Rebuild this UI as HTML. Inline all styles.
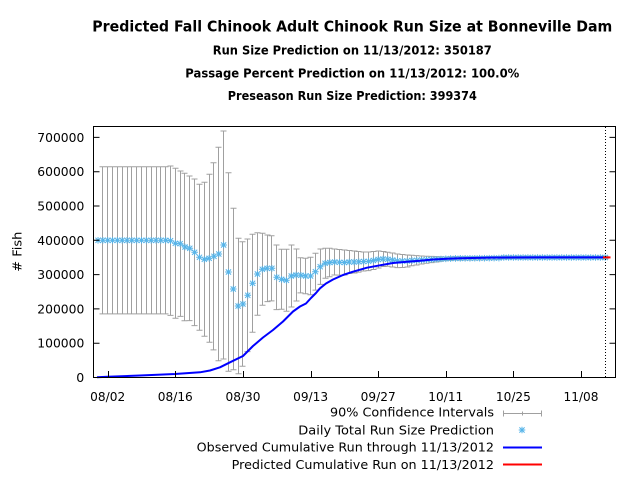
<!DOCTYPE html>
<html><head><meta charset="utf-8">
<style>
html,body{margin:0;padding:0;background:#fff;overflow:hidden;}
svg{display:block;}
text{font-family:"DejaVu Sans","Liberation Sans",sans-serif;fill:#000;}
</style></head><body>
<svg id="c" width="640" height="480" viewBox="0 0 640 480" xmlns="http://www.w3.org/2000/svg">
<rect width="640" height="480" fill="#fff"/>
<g font-weight="bold" text-anchor="middle">
<text x="352.3" y="31.7" font-size="15" textLength="520" lengthAdjust="spacingAndGlyphs">Predicted Fall Chinook Adult Chinook Run Size at Bonneville Dam</text>
<text x="352.3" y="54.7" font-size="12" textLength="279" lengthAdjust="spacingAndGlyphs">Run Size Prediction on 11/13/2012: 350187</text>
<text x="352.3" y="77.3" font-size="12" textLength="334" lengthAdjust="spacingAndGlyphs">Passage Percent Prediction on 11/13/2012: 100.0%</text>
<text x="352.3" y="100" font-size="12" textLength="249" lengthAdjust="spacingAndGlyphs">Preseason Run Size Prediction: 399374</text>
</g>
<text transform="translate(21.5,251.7) rotate(-90)" text-anchor="middle" font-size="12" textLength="40" lengthAdjust="spacingAndGlyphs"># Fish</text>
<g font-size="12" text-anchor="end">
<text x="84.3" y="382" textLength="8" lengthAdjust="spacingAndGlyphs">0</text>
<text x="84.3" y="347.7" textLength="47" lengthAdjust="spacingAndGlyphs">100000</text>
<text x="84.3" y="313.4" textLength="47" lengthAdjust="spacingAndGlyphs">200000</text>
<text x="84.3" y="279.1" textLength="47" lengthAdjust="spacingAndGlyphs">300000</text>
<text x="84.3" y="244.8" textLength="47" lengthAdjust="spacingAndGlyphs">400000</text>
<text x="84.3" y="210.5" textLength="47" lengthAdjust="spacingAndGlyphs">500000</text>
<text x="84.3" y="176.2" textLength="47" lengthAdjust="spacingAndGlyphs">600000</text>
<text x="84.3" y="141.9" textLength="47" lengthAdjust="spacingAndGlyphs">700000</text>
</g>
<g font-size="12" text-anchor="middle">
<text x="107.7" y="401" textLength="35" lengthAdjust="spacingAndGlyphs">08/02</text>
<text x="175.3" y="401" textLength="35" lengthAdjust="spacingAndGlyphs">08/16</text>
<text x="243.0" y="401" textLength="35" lengthAdjust="spacingAndGlyphs">08/30</text>
<text x="310.6" y="401" textLength="35" lengthAdjust="spacingAndGlyphs">09/13</text>
<text x="378.2" y="401" textLength="35" lengthAdjust="spacingAndGlyphs">09/27</text>
<text x="445.8" y="401" textLength="35" lengthAdjust="spacingAndGlyphs">10/11</text>
<text x="513.4" y="401" textLength="35" lengthAdjust="spacingAndGlyphs">10/25</text>
<text x="581.0" y="401" textLength="35" lengthAdjust="spacingAndGlyphs">11/08</text>
</g>
<g font-size="12" text-anchor="end">
<text x="494" y="416.7" textLength="164" lengthAdjust="spacingAndGlyphs">90% Confidence Intervals</text>
<text x="494" y="434.3" textLength="195.7" lengthAdjust="spacingAndGlyphs">Daily Total Run Size Prediction</text>
<text x="494" y="451.7" textLength="297.3" lengthAdjust="spacingAndGlyphs">Observed Cumulative Run through 11/13/2012</text>
<text x="494" y="469" textLength="262.3" lengthAdjust="spacingAndGlyphs">Predicted Cumulative Run on 11/13/2012</text>
</g>
<g id="plot"></g>
</svg>
<script>
(function(){
var NS="http://www.w3.org/2000/svg";
var g=document.getElementById("plot");
function X(d){return 107.7+4.83*d;}
function el(name,attrs){var e=document.createElementNS(NS,name);for(var k in attrs)e.setAttribute(k,attrs[k]);g.appendChild(e);return e;}
// stars
var S={};
for(var d=-2;d<=12;d++)S[d]=240.3;
var s2=[240.7,243.3,243.7,247,248.3,252.3,257.3,259.3,258.3,256.3,254,245,272,289,306,304,295.3,283.3,274,269.3,268.3,268.3,277.3,279.3,280.3,276,275,275.3,276,276,271.7,266.7,263.3,262.5,262,262.3,262.5,262,262,261.8,261.5,261.3,260.5,259.5,259,259.3,260,260.8,261,261,260.5,260.3,260,259.7,259.5,259.3,259,258.8,258.6];
for(var i=0;i<s2.length;i++)S[13+i]=s2[i];
for(d=72;d<=81;d++)S[d]=258.4-(d-72)*0.04;
for(d=82;d<=103;d++)S[d]=257.5;
// tops
var T={};
for(d=-1;d<=12;d++)T[d]=166.7;
var t2=[166,168.3,171,173.3,176,179,184.3,182.3,174.3,162.7,147.3,131,172.7,208.3,238.3,241.7,239,234.3,232.7,233.3,235,235.7,245,249.3,249.3,245,249,257.7,258.3,257.3,253.3,249,248.3,248.3,249,249.5,250,250.5,251,251.5,252,252,251.5,251,251.5,252.3,253,254,254.5,255,255.3,255.6,256,256.2,256.4,256.6,256.8,257];
for(i=0;i<t2.length;i++)T[13+i]=t2[i];
for(d=71;d<=103;d++)T[d]=S[d]-Math.max(1.2,1.8-(d-71)*0.03);
// error bars
var p="";
for(d=-1;d<=103;d++){
  var x=Math.floor(X(d))+0.5,t=T[d],b=2*S[d]-T[d];
  p+="M"+x+" "+t+"V"+b+"M"+(x-3)+" "+t+"H"+(x+3)+"M"+(x-3)+" "+b+"H"+(x+3);
}
el("path",{d:p,stroke:"#a0a0a0","stroke-width":"1",fill:"none"});
// stars
var sp="";
function star(x,y){
  var a=3.3,c=2.6;
  return "M"+(x-a)+" "+y+"H"+(x+a)+"M"+x+" "+(y-a)+"V"+(y+a)+"M"+(x-c)+" "+(y-c)+"L"+(x+c)+" "+(y+c)+"M"+(x-c)+" "+(y+c)+"L"+(x+c)+" "+(y-c);
}
for(d=-2;d<=103;d++){sp+=star(X(d),S[d]);}
sp+=star(522,430);
el("path",{d:sp,stroke:"#56b4e9","stroke-width":"1",fill:"none"});
// blue line
var B=[[97,377.3],[107.7,376.7],[140,375.5],[175,374],[200,372.3],[210,370.5],[220,367.3],[230,362.3],[243,356],[253,346],[263,337.5],[273,330],[283,321.5],[293,311.5],[300,306.5],[306,303.5],[311,298],[316,293],[320,288.3],[326,283.5],[333,279.5],[343,275],[353,271.7],[367,267.7],[380,265.3],[393,263],[407,261.7],[420,260.7],[433,259.5],[447,258.7],[460,258.3],[490,257.6],[540,257.4],[604,257.4]];
var bp="M"+B.map(function(q){return q[0]+" "+q[1];}).join("L");
el("path",{d:bp,stroke:"#0000ff","stroke-width":"2",fill:"none","stroke-linejoin":"round"});
el("path",{d:"M603 257.4H610.5",stroke:"#ff0000","stroke-width":"2",fill:"none"});
// dotted line
el("path",{d:"M605.5 127V377",stroke:"#000","stroke-width":"1","stroke-dasharray":"1,2",fill:"none"});
// border + ticks
var ax="M93.5 126.5H615.5V377.5H93.5Z";
for(i=1;i<=7;i++){var y=(377.5-34.3*i).toFixed(1);ax+="M93.5 "+y+"H99.5M615.5 "+y+"H609.5";}
[0,14,28,42,56,70,84,98].forEach(function(dd){var x=Math.round(X(dd))+0.5;ax+="M"+x+" 377.5V371";});
el("path",{d:ax,stroke:"#000","stroke-width":"1",fill:"none"});
// legend samples
el("path",{d:"M503.5 413.5H541.5M503.5 410.5V416.5M541.5 410.5V416.5M522.5 411.5V415.5",stroke:"#a0a0a0","stroke-width":"1",fill:"none"});
el("path",{d:"M503 447.5H542",stroke:"#0000ff","stroke-width":"2",fill:"none"});
el("path",{d:"M503 464.5H542",stroke:"#ff0000","stroke-width":"2",fill:"none"});
})();
</script>
</body></html>
